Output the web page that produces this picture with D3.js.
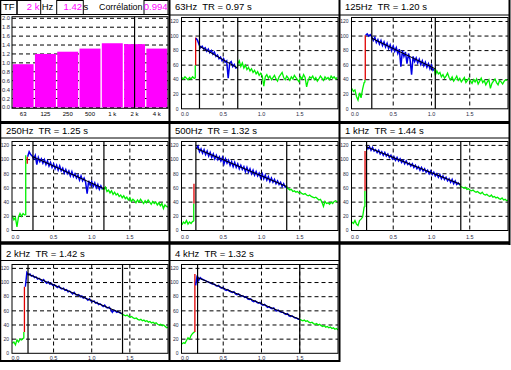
<!DOCTYPE html>
<html><head><meta charset="utf-8">
<script src="https://cdn.jsdelivr.net/npm/d3@7"></script>
<style>
html,body{margin:0;padding:0;background:#fff;}
svg{display:block;font-family:"Liberation Sans",Arial,sans-serif;}
</style></head><body>
<svg id="c" width="511" height="370"></svg>
<script>
// ---------- DATA ----------
const bandLabels = ["63","125","250","500","1 k","2 k","4 k"];
const bandTitles = ["63Hz","125Hz","250Hz","500Hz","1 kHz","2 kHz","4 kHz"];
const trValues = [0.97,1.20,1.25,1.32,1.44,1.42,1.32];
const selectedBand = "2 k";
const selectedTR = "1.42";
const correlation = "0.994";
const barTicks = [0.0,0.2,0.4,0.6,0.8,1.0,1.2,1.4,1.6,1.8,2.0];
const levelTicks = [0,20,40,60,80,100,120];
const timeTicks = [0.0,0.5,1.0,1.5];

// decay analysis markers (s) and regression end levels (dB)
const startLines = [0.19,0.22,0.23,0.143,0.152,0.165,0.165];
const endLines   = [0.69,1.05,1.16,1.33,1.383,1.404,1.50];
const fitLevels  = [[86,56],[97,55],[104,59],[116,62],[118,65],[112,56],[107,48]];
// onset: [time, from, to]
const greenRises = [[0.135,42,60],[0.13,36,40],[0.135,22,106],[0.115,13,38],[0.13,33,56],[0.11,21,30],null];
const redRises   = [[0.14,60,98],[0.135,40,101],[0.155,94,104],[0.118,38,66],[0.132,56,112],[0.118,30,94],[0.13,30,112]];
const decayStarts = [0.145,0.14,0.16,0.15,0.15,0.13,0.14];
const sampleStep = 0.02;
const preStart = -0.04;

// levels (dB) sampled every 20 ms
const pre63 = [43,41,44,42,40,43,41,44,42];
const decay63 = [97,94,88,84,86,82,84,79,82,77,80,75,78,72,74,69,71,66,69,64,66,42,63,65,58,61,56,57];
const tail63 = [62,66,58,63,56,60,54,57,52,55,50,53,48,51,46,49,45,31,44,47,42,45,40,43,46,41,38,44,47,50,43,40,45,42,39,44,41,46,43,40,37,44,41,47,43,30,39,44,42,45,40,43,38,41,45,42,39,44,41,43,40,45,42,44,41,43];

const pre125 = [28,24,26,17,12,22,15,27,36];
const decay125 = [101,103,100,102,99,94,98,91,95,89,94,87,92,85,90,83,88,80,86,79,84,76,82,58,80,72,78,62,76,68,47,72,65,70,63,68,61,66,59,64,57,62,55,60,53,55];
const tail125 = [46,52,48,50,44,47,42,45,49,43,40,44,38,41,45,39,42,37,40,43,36,39,42,38,35,40,37,41,34,38,42,36,39,33,37,40,28,35,38,41,36,33,39,37,34,38,40,39];

const pre250 = [21,15,18,5,19,24,20,24,22];
const decay250 = [104,111,107,105,101,106,93,103,97,101,95,100,93,98,91,96,89,94,87,92,85,91,84,88,81,86,80,84,77,83,76,80,74,78,71,77,70,74,68,52,70,64,69,62,67,60,65,58,63,58];
const tail250 = [58,61,55,57,53,56,51,54,50,52,48,50,46,49,45,47,43,46,41,44,42,39,43,40,44,41,38,42,39,43,40,37,41,38,40,36,39,35,38,31,36,34,33];

const pre500 = [8,12,10,14,9,12,10,13];
const decay500 = [116,119,111,115,109,114,107,112,105,110,103,108,101,106,100,104,98,103,94,101,95,99,92,97,90,96,89,94,87,92,86,90,83,89,82,87,80,85,78,83,77,81,74,80,73,78,71,76,69,74,68,72,66,70,65,68,62,66,61,63];
const tail500 = [61,59,57,58,55,56,54,55,53,54,52,51,52,50,49,50,48,47,46,47,45,43,44,40,34,41,38,39,37,40,38,41,42,40];

const pre1k = [12,10,14,9,7,14,16,19,33];
const decay1k = [119,115,118,113,117,112,114,110,113,108,111,106,110,105,108,103,106,101,104,99,103,98,101,96,99,94,98,93,95,91,94,89,92,87,90,85,89,84,87,82,85,80,84,79,82,77,80,75,79,73,77,72,75,70,73,68,72,66,70,65,67,64];
const tail1k = [62,61,60,61,58,59,57,56,57,55,54,55,53,52,54,51,50,51,49,48,50,47,48,46,47,45,44,46,43,44,42,43];

const pre2k = [14,16,12,19,16,20,19,21];
const decay2k = [94,114,111,112,109,110,107,108,105,106,104,102,104,101,99,101,98,99,96,97,95,93,95,92,91,92,89,90,87,88,86,84,86,83,82,83,80,81,78,79,77,75,77,74,73,74,71,72,69,70,68,66,68,65,64,65,62,58,61,60,58,59,57,56];
const tail2k = [55,54,53,54,52,51,52,50,49,50,48,47,48,46,47,45,46,44,45,43,44,42,43,41,40,41,39,40,38,36,37];

const pre4k = [13,15,14,18,22,20,25,28,30];
const decay4k = [96,110,103,107,105,104,103,102,101,100,99,98,98,96,95,96,93,92,93,90,89,90,88,87,86,87,84,83,84,82,81,81,79,80,77,76,77,74,73,74,72,71,72,69,68,69,67,65,66,64,63,64,61,60,61,59,58,58,56,55,56,53,52,53,51,50,50,48,48];
const tail4k = [48,47,46,47,45,46,44,43,44,42,41,42,40,41,39,38,39,37,38,36,37,35,36,34,35,33];

const preSeries = [pre63,pre125,pre250,pre500,pre1k,pre2k,pre4k];
const decaySeries = [decay63,decay125,decay250,decay500,decay1k,decay2k,decay4k];
const tailSeries = [tail63,tail125,tail250,tail500,tail1k,tail2k,tail4k];

// ---------- LAYOUT ----------
const cols = [{l:0,r:169,pl:12},{l:169,r:339,pl:181.5},{l:339,r:509,pl:351.5}];
const rows = [
  {top:0,  titleY:9.8,   lineY:15,   pt:17.5,  pb:108.8, xl:115.5},
  {top:121,titleY:134,   lineY:138,  pt:141.5, pb:230.5, xl:238.8},
  {top:241,titleY:256.7, lineY:260.5,pt:264.5, pb:353.3, xl:359.5}
];
const panelPos = [[1,0],[2,0],[0,1],[1,1],[2,1],[0,2],[1,2]];
const GREEN="#00f000", BLUE="#0000e6", RED="#e00000", LABEL="#2a2a44";

const svg = d3.select("#c");
svg.append("rect").attr("width",511).attr("height",370).attr("fill","#fff");

// ---------- BAR PANEL ----------
(function(){
  const c = cols[0];
  const pr = c.r - 1, pt = 16.7, pb = 108.3;
  const x = d3.scaleBand().domain(bandLabels).range([c.pl, pr]).paddingInner(0.06).paddingOuter(0.03);
  const y = d3.scaleLinear().domain([0,2]).range([107.4,18.3]);
  const g = svg.append("g");
  g.selectAll("line.gr").data(barTicks).enter().append("line")
    .attr("x1",c.pl).attr("x2",pr).attr("y1",d=>y(d)).attr("y2",d=>y(d))
    .attr("stroke","#000").attr("stroke-width",1).attr("stroke-dasharray","4,3");
  g.selectAll("rect.bar").data(trValues).enter().append("rect")
    .attr("x",(d,i)=>x(bandLabels[i])).attr("width",x.bandwidth())
    .attr("y",d=>y(d)).attr("height",d=>y(0)-y(d)).attr("fill","#ff00ff");
  const xs = x(selectedBand)+x.bandwidth()/2;
  g.append("line").attr("x1",xs).attr("x2",xs).attr("y1",pt).attr("y2",pb).attr("stroke","#000").attr("stroke-width",1.2);
  g.append("rect").attr("x",c.pl).attr("y",pt).attr("width",pr-c.pl).attr("height",pb-pt)
    .attr("fill","none").attr("stroke","#000").attr("stroke-width",1);
  g.selectAll("text.yl").data(barTicks).enter().append("text")
    .attr("x",c.pl-2).attr("y",d=>y(d)).attr("dy","0.35em").attr("text-anchor","end")
    .attr("font-size",5.8).attr("fill",LABEL).text(d=>d.toFixed(1));
  g.selectAll("text.xl").data(bandLabels).enter().append("text")
    .attr("x",d=>x(d)+x.bandwidth()/2).attr("y",115.5).attr("text-anchor","middle")
    .attr("font-size",6).attr("fill","#000").text(d=>d);
  // header
  const boxes = [[0.5,17],[17,40.7],[56.7,83.3],[144,168]];
  boxes.forEach(b=>g.append("rect").attr("x",b[0]).attr("y",0.5).attr("width",b[1]-b[0]).attr("height",14)
    .attr("fill","none").attr("stroke","#000").attr("stroke-width",1));
  g.append("line").attr("x1",0).attr("x2",169).attr("y1",14.5).attr("y2",14.5).attr("stroke","#000");
  const ht = (tx,xx,anchor,col)=>g.append("text").attr("x",xx).attr("y",9.8).attr("text-anchor",anchor)
      .attr("font-size",9.5).attr("fill",col).text(tx);
  ht("TF",3,"start","#000");
  ht(selectedBand,39.5,"end","#ff00ff");
  ht("Hz",41.7,"start","#000");
  ht(selectedTR,82,"end","#ff00ff");
  ht("s",83.5,"start","#000");
  ht("Corrélation",99,"start","#000").attr("textLength",43.5).attr("lengthAdjust","spacingAndGlyphs");
  ht(correlation,167.5,"end","#ff00ff");
})();

// ---------- DECAY PANELS ----------
panelPos.forEach((pos,i)=>{
  const c = cols[pos[0]], r = rows[pos[1]];
  const pl = c.pl, pr = c.r - 1;
  const x = d3.scaleLinear().domain([-0.045,2.0]).range([pl,pr]);
  const y = d3.scaleLinear().domain([0,125.5]).range([r.pb,r.pt]);
  const g = svg.append("g");
  const cid = "clip"+i;
  svg.append("clipPath").attr("id",cid).append("rect").attr("x",pl).attr("y",r.pt).attr("width",pr-pl).attr("height",r.pb-r.pt);
  // title
  g.append("text").attr("x",c.l+6).attr("y",r.titleY).attr("font-size",9.5).attr("fill","#000")
    .style("white-space","pre").text(bandTitles[i]+"  TR = "+trValues[i].toFixed(2)+" s");
  g.append("line").attr("x1",c.l).attr("x2",c.r).attr("y1",r.lineY).attr("y2",r.lineY).attr("stroke","#000");
  // grid
  g.selectAll("line.hg").data(levelTicks.filter(d=>d>0)).enter().append("line")
    .attr("x1",pl).attr("x2",pr).attr("y1",d=>y(d)).attr("y2",d=>y(d))
    .attr("stroke","#000").attr("stroke-dasharray","4,3");
  g.selectAll("line.vg").data(timeTicks.filter(d=>d>0)).enter().append("line")
    .attr("x1",d=>x(d)).attr("x2",d=>x(d)).attr("y1",r.pt).attr("y2",r.pb)
    .attr("stroke","#000").attr("stroke-dasharray","4,3");
  const dg = g.append("g").attr("clip-path","url(#"+cid+")");
  const line = d3.line().x(d=>x(d[0])).y(d=>y(d[1]));
  const gr = greenRises[i], rr = redRises[i];
  // pre-onset noise
  const pre = preSeries[i].map((v,k)=>[preStart+k*sampleStep,v]);
  const first = gr ? gr : rr;
  pre.push([first[0],first[1]]);
  dg.append("path").attr("d",line(pre)).attr("fill","none").attr("stroke",GREEN).attr("stroke-width",1.3);
  if(gr) dg.append("path").attr("d",line([[gr[0],gr[1]],[gr[0],gr[2]]])).attr("fill","none").attr("stroke",GREEN).attr("stroke-width",1.3);
  dg.append("path").attr("d",line([[rr[0],rr[1]],[rr[0],rr[2]]])).attr("fill","none").attr("stroke",RED).attr("stroke-width",1.3);
  // decay
  const dec = decaySeries[i].map((v,k)=>[decayStarts[i]+k*sampleStep,v]);
  dg.append("path").attr("d",line(dec)).attr("fill","none").attr("stroke",BLUE).attr("stroke-width",1.5);
  // tail
  const tail = [dec[dec.length-1]].concat(tailSeries[i].map((v,k)=>[endLines[i]+k*sampleStep,v]));
  dg.append("path").attr("d",line(tail)).attr("fill","none").attr("stroke",GREEN).attr("stroke-width",1.3);
  // regression line
  dg.append("path").attr("d",line([[startLines[i],fitLevels[i][0]],[endLines[i],fitLevels[i][1]]]))
    .attr("fill","none").attr("stroke","#000").attr("stroke-width",1);
  // markers
  [startLines[i],endLines[i]].forEach(t=>g.append("line").attr("x1",x(t)).attr("x2",x(t))
    .attr("y1",r.pt).attr("y2",r.pb).attr("stroke","#000").attr("stroke-width",1.2));
  g.append("rect").attr("x",pl).attr("y",r.pt).attr("width",pr-pl).attr("height",r.pb-r.pt)
    .attr("fill","none").attr("stroke","#000");
  // tick labels
  g.selectAll("text.yl").data(levelTicks).enter().append("text")
    .attr("x",pl-3).attr("y",d=>y(d)).attr("dy","0.35em").attr("text-anchor","end")
    .attr("font-size",5).attr("fill",LABEL).text(d=>d);
  g.selectAll("text.xl").data(timeTicks).enter().append("text")
    .attr("x",d=>x(d)).attr("y",r.xl).attr("text-anchor","middle")
    .attr("font-size",5.5).attr("fill",LABEL).text(d=>d.toFixed(1));
});

// ---------- PANEL BORDERS ----------
const B = svg.append("g").attr("stroke","#000").attr("fill","none");
B.append("line").attr("x1",0.5).attr("x2",0.5).attr("y1",0).attr("y2",362).attr("stroke-width",1.5);
B.append("line").attr("x1",169.5).attr("x2",169.5).attr("y1",0).attr("y2",362).attr("stroke-width",2);
B.append("line").attr("x1",339.5).attr("x2",339.5).attr("y1",0).attr("y2",362).attr("stroke-width",2);
B.append("line").attr("x1",509.5).attr("x2",509.5).attr("y1",0).attr("y2",245).attr("stroke-width",2);
B.append("line").attr("x1",0).attr("x2",510).attr("y1",122.5).attr("y2",122.5).attr("stroke-width",3);
B.append("line").attr("x1",0).attr("x2",510).attr("y1",243).attr("y2",243).attr("stroke-width",3.5);
B.append("line").attr("x1",0).attr("x2",340).attr("y1",361).attr("y2",361).attr("stroke-width",2);
</script>
</body></html>
